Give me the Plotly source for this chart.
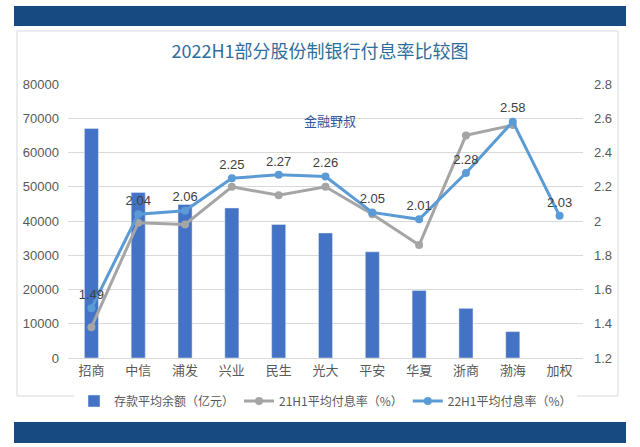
import plotly.graph_objects as go

categories = ["招商", "中信", "浦发", "兴业", "民生", "光大", "平安", "华夏", "浙商", "渤海", "加权"]
deposits = [67000, 48300, 44800, 43800, 39000, 36500, 31000, 19700, 14500, 7700, None]
rate_21h1 = [1.38, 1.99, 1.98, 2.20, 2.15, 2.20, 2.04, 1.86, 2.50, 2.56, None]
rate_22h1 = [1.49, 2.04, 2.06, 2.25, 2.27, 2.26, 2.05, 2.01, 2.28, 2.58, 2.03]
left_ticks = [0, 10000, 20000, 30000, 40000, 50000, 60000, 70000, 80000]
left_tick_text = [str(v) for v in left_ticks]
right_ticks = [1.2, 1.4, 1.6, 1.8, 2.0, 2.2, 2.4, 2.6, 2.8]
right_tick_text = ["1.2", "1.4", "1.6", "1.8", "2", "2.2", "2.4", "2.6", "2.8"]

FONT = "Noto Sans CJK SC, Liberation Sans, sans-serif"
NUMFONT = "Liberation Sans Narrow, Liberation Sans, Noto Sans CJK SC, sans-serif"

W, H = 640, 447
L, R, T, B = 68, 57, 84, 89
PW, PH = W - L - R, H - T - B


def px(xf):
    return (xf - L) / PW


def py(yf):
    return 1 - (yf - T) / PH


fig = go.Figure()
fig.add_trace(go.Bar(
    x=categories, y=deposits, name="存款平均余额（亿元）",
    marker=dict(color="#4472C4"), yaxis="y",
))
fig.add_trace(go.Scatter(
    x=categories, y=rate_21h1, name="21H1平均付息率（%）",
    mode="lines+markers", yaxis="y2",
    line=dict(color="#A5A5A5", width=3),
    marker=dict(color="#A5A5A5", size=8),
))
fig.add_trace(go.Scatter(
    x=categories, y=rate_22h1, name="22H1平均付息率（%）",
    mode="lines+markers+text", yaxis="y2",
    line=dict(color="#5B9BD5", width=3),
    marker=dict(color="#5B9BD5", size=8),
    text=[f"{v:.2f}" for v in rate_22h1], textposition="top center",
    textfont=dict(family=NUMFONT, size=13, color="#404040"),
))

fig.update_layout(
    width=W, height=H,
    paper_bgcolor="white", plot_bgcolor="white",
    margin=dict(l=L, r=R, t=T, b=B, autoexpand=False),
    bargap=0.7,
    showlegend=True,
    legend=dict(orientation="h", x=0.5, xanchor="center", y=py(401), yanchor="middle",
                font=dict(family=FONT, size=12, color="#595959"),
                itemwidth=30, tracegroupgap=0),
    title=dict(text="2022H1部分股份制银行付息率比较图", x=0.5, xanchor="center",
               y=1 - 52 / H, yanchor="middle",
               font=dict(family=FONT, size=18, color="#2E6E9C")),
    xaxis=dict(type="category", range=[-0.5, len(categories) - 0.5],
               showgrid=False, showline=True, linecolor="#D9D9D9",
               automargin=False,
               ticks="", tickfont=dict(family=FONT, size=13, color="#595959")),
    yaxis=dict(range=[0, 80000], tickvals=left_ticks, ticktext=left_tick_text,
               showgrid=True, gridcolor="#D9D9D9", automargin=False,
               zeroline=False, ticks="", tickfont=dict(family=NUMFONT, size=13, color="#595959"),
               ticklabelstandoff=8),
    yaxis2=dict(range=[1.2, 2.8], tickvals=right_ticks, ticktext=right_tick_text,
                overlaying="y", side="right", showgrid=False, zeroline=False, ticks="",
                automargin=False,
                tickfont=dict(family=NUMFONT, size=13, color="#595959"),
                ticklabelstandoff=10),
    shapes=[
        dict(type="rect", xref="paper", yref="paper", x0=px(14), x1=px(626),
             y0=py(26), y1=py(6),
             fillcolor="#164A80", line=dict(width=0), layer="below"),
        dict(type="rect", xref="paper", yref="paper", x0=px(17), x1=px(618),
             y0=py(396), y1=py(31),
             fillcolor="rgba(0,0,0,0)", line=dict(color="#D9D9D9", width=1), layer="below"),
        dict(type="rect", xref="paper", yref="paper", x0=px(14), x1=px(626),
             y0=py(443), y1=py(422),
             fillcolor="#164A80", line=dict(width=0), layer="below"),
    ],
    annotations=[
        dict(text="金融野叔", xref="paper", yref="paper", x=px(330),
             y=py(120), xanchor="center", yanchor="middle", showarrow=False,
             font=dict(family=FONT, size=13, color="#2F5597")),
    ],
)

fig.write_html(
    "out.html",
    config={"displayModeBar": False},
    post_script="document.body.style.margin='0';document.body.style.overflow='hidden';",
)
